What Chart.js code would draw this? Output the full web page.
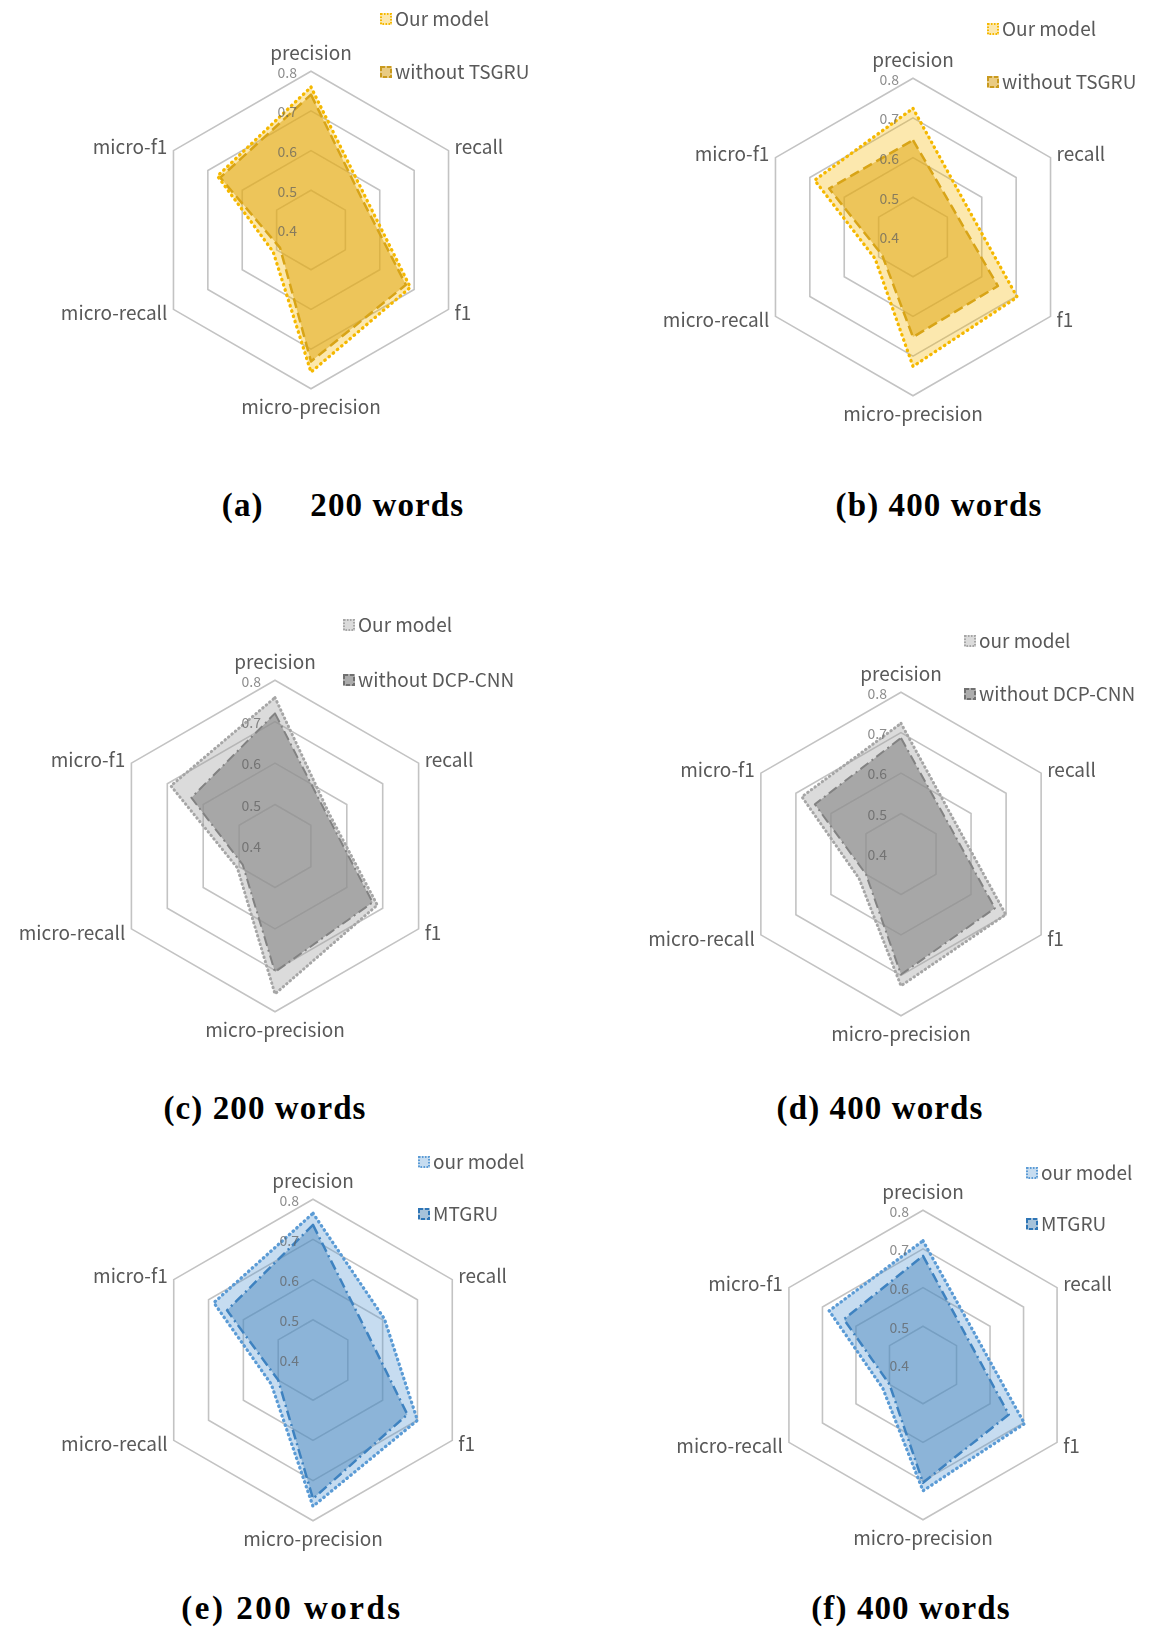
<!DOCTYPE html>
<html>
<head>
<meta charset="utf-8">
<script src="https://cdn.jsdelivr.net/npm/chart.js@4.4.1/dist/chart.umd.min.js"></script>
<style>
  html, body { margin: 0; padding: 0; background: #fff; }
  #page { position: relative; width: 1159px; height: 1628px; overflow: hidden; background: #fff; }
  .panel { position: absolute; }
  .caption {
    position: absolute;
    font-family: "Liberation Serif", "Times New Roman", serif;
    font-weight: bold;
    font-size: 33px;
    letter-spacing: 1.1px;
    color: #000;
    white-space: pre;
    transform: translate(-50%, -50%);
  }
</style>
</head>
<body>
<div id="page"></div>
<script>
// Radar axes, clockwise from the top
const categories = ['precision', 'recall', 'f1', 'micro-precision', 'micro-recall', 'micro-f1'];
const tickValues = [0.4, 0.5, 0.6, 0.7, 0.8];
const tickLabels = ['0.4', '0.5', '0.6', '0.7', '0.8'];

// (a) TSGRU ablation, 200 words
const tsgru200Ours    = [0.760, 0.560, 0.689, 0.758, 0.510, 0.672];
const tsgru200Without = [0.741, 0.550, 0.676, 0.731, 0.490, 0.664];
// (b) TSGRU ablation, 400 words
const tsgru400Ours    = [0.724, 0.556, 0.703, 0.726, 0.510, 0.686];
const tsgru400Without = [0.644, 0.523, 0.647, 0.652, 0.490, 0.644];
// (c) DCP-CNN ablation, 200 words
const dcp200Ours      = [0.758, 0.552, 0.685, 0.757, 0.505, 0.690];
const dcp200Without   = [0.720, 0.546, 0.672, 0.704, 0.490, 0.633];
// (d) DCP-CNN ablation, 400 words
const dcp400Ours      = [0.723, 0.555, 0.699, 0.726, 0.520, 0.683];
const dcp400Without   = [0.687, 0.539, 0.668, 0.698, 0.500, 0.646];
// (e) against MTGRU, 200 words
const mtgru200Ours    = [0.765, 0.605, 0.700, 0.764, 0.520, 0.685];
const mtgru200Base    = [0.736, 0.551, 0.671, 0.745, 0.500, 0.647];
// (f) against MTGRU, 400 words
const mtgru400Ours    = [0.721, 0.556, 0.703, 0.725, 0.520, 0.680];
const mtgru400Base    = [0.682, 0.534, 0.656, 0.704, 0.500, 0.636];

const seriesNames = {
  a: ['Our model', 'without TSGRU'],
  b: ['Our model', 'without TSGRU'],
  c: ['Our model', 'without DCP-CNN'],
  d: ['our model', 'without DCP-CNN'],
  e: ['our model', 'MTGRU'],
  f: ['our model', 'MTGRU']
};
const captions = {
  a: '(a)     200 words',
  b: '(b) 400 words',
  c: '(c) 200 words',
  d: '(d) 400 words',
  e: '(e) 200 words',
  f: '(f) 400 words'
};

// Line / fill styles per colour family
const palettes = {
  gold: [
    { border: '#F5B800', fill: 'rgba(245,185,10,0.33)', dash: [0.5, 5], width: 3.3, cap: 'round' },
    { border: '#C99A1E', fill: 'rgba(215,160,30,0.55)', dash: [10, 5], width: 2.5, cap: 'butt' }
  ],
  gray: [
    { border: '#A6A6A6', fill: 'rgba(160,160,160,0.38)', dash: [0.5, 4], width: 3, cap: 'round' },
    { border: '#707070', fill: 'rgba(128,128,128,0.65)', dash: [10, 4, 2, 4], width: 2, cap: 'butt' }
  ],
  blue: [
    { border: '#5B9BD5', fill: 'rgba(91,155,213,0.35)', dash: [0.5, 4.5], width: 3.3, cap: 'round' },
    { border: '#2E75B6', fill: 'rgba(62,122,175,0.46)', dash: [10, 4, 2, 4], width: 2.5, cap: 'butt' }
  ]
};

// Placement of each radar on the page
const panels = [
  { key: 'a', data: [tsgru200Ours, tsgru200Without], palette: 'gold', cx: 311, cy: 231, r: 159, legend: [84, -211, -158], cap: [343, 505], capSpacing: 1.1 },
  { key: 'b', data: [tsgru400Ours, tsgru400Without], palette: 'gold', cx: 913, cy: 238, r: 159, legend: [89, -208, -155], cap: [939, 505], capSpacing: 1.1 },
  { key: 'c', data: [dcp200Ours, dcp200Without], palette: 'gray', cx: 275, cy: 847, r: 166, legend: [83, -221, -166], cap: [265, 1108], capSpacing: 1.1 },
  { key: 'd', data: [dcp400Ours, dcp400Without], palette: 'gray', cx: 901, cy: 855, r: 162, legend: [78, -213, -160], cap: [880, 1108], capSpacing: 1.1 },
  { key: 'e', data: [mtgru200Ours, mtgru200Base], palette: 'blue', cx: 313, cy: 1361, r: 161, legend: [120, -198, -146], cap: [292, 1608], capSpacing: 2.5 },
  { key: 'f', data: [mtgru400Ours, mtgru400Base], palette: 'blue', cx: 923, cy: 1366, r: 155, legend: [118, -192, -141], cap: [911, 1608], capSpacing: 1.1 }
];

const TEXT_FONT = '"Noto Sans CJK SC", "Noto Sans", sans-serif';
const LABEL_SIZE = 19;

// Scale tick labels drawn just left of the vertical axis
const tickLabelPlugin = {
  id: 'tickLabelsLeft',
  afterDatasetsDraw(chart) {
    const s = chart.scales.r;
    const ctx = chart.ctx;
    ctx.save();
    ctx.font = '14px ' + TEXT_FONT;
    ctx.fillStyle = 'rgba(95,95,95,0.72)';
    ctx.textAlign = 'right';
    ctx.textBaseline = 'middle';
    tickValues.forEach((v, i) => {
      const d = s.getDistanceFromCenterForValue(v);
      ctx.fillText(tickLabels[i], s.xCenter - 14, s.yCenter - d + 1);
    });
    ctx.restore();
  }
};

// Two-row legend placed to the upper right of the radar
const sideLegendPlugin = {
  id: 'sideLegend',
  afterDraw(chart, args, opts) {
    const s = chart.scales.r;
    const ctx = chart.ctx;
    const [dx, dy1, dy2] = opts.offset;
    const rows = [dy1, dy2];
    ctx.save();
    chart.data.datasets.forEach((ds, i) => {
      const x = s.xCenter + dx;
      const y = s.yCenter + rows[i];
      // swatch
      ctx.fillStyle = '#fff';
      ctx.fillRect(x - 15, y - 6, 12, 12);
      ctx.fillStyle = ds.backgroundColor;
      ctx.fillRect(x - 15, y - 6, 12, 12);
      ctx.strokeStyle = ds.borderColor;
      ctx.lineWidth = 2;
      ctx.setLineDash(i === 0 ? [1.5, 1.5] : [4, 2]);
      ctx.strokeRect(x - 14, y - 5, 10, 10);
      ctx.setLineDash([]);
      // text
      ctx.font = LABEL_SIZE + 'px ' + TEXT_FONT;
      ctx.fillStyle = '#595959';
      ctx.textAlign = 'left';
      ctx.textBaseline = 'middle';
      ctx.fillText(ds.label, x, y);
    });
    ctx.restore();
  }
};

const page = document.getElementById('page');
const W = 560;
const PAD_TOP = 250;
const PAD_BOTTOM = 12;
const LABEL_PAD = [18, 7, 7, 18, 7, 7];

panels.forEach(p => {
  const lineH = 0.01;
  const hs = 2 * Math.round(p.r + 18 + LABEL_SIZE * lineH);
  const H = PAD_TOP + hs + PAD_BOTTOM;
  const canvas = document.createElement('canvas');
  canvas.className = 'panel';
  canvas.width = W;
  canvas.height = H;
  canvas.style.width = W + 'px';
  canvas.style.height = H + 'px';
  canvas.style.left = (p.cx - W / 2) + 'px';
  canvas.style.top = (p.cy - PAD_TOP - hs / 2) + 'px';
  page.appendChild(canvas);

  const styles = palettes[p.palette];
  const datasets = p.data.map((values, i) => ({
    label: seriesNames[p.key][i],
    data: values,
    borderColor: styles[i].border,
    backgroundColor: styles[i].fill,
    borderDash: styles[i].dash,
    borderWidth: styles[i].width,
    borderCapStyle: styles[i].cap,
    borderJoinStyle: 'round',
    fill: true,
    pointRadius: 0,
    pointHoverRadius: 0,
    tension: 0
  }));

  new Chart(canvas, {
    type: 'radar',
    data: { labels: categories, datasets },
    options: {
      responsive: false,
      animation: false,
      events: [],
      layout: { padding: { top: PAD_TOP, bottom: PAD_BOTTOM, left: 0, right: 0 } },
      plugins: {
        legend: { display: false },
        tooltip: { enabled: false },
        sideLegend: { offset: p.legend }
      },
      scales: {
        r: {
          min: 0.4,
          max: 0.8,
          beginAtZero: false,
          ticks: { display: false, stepSize: 0.1 },
          grid: { color: '#c3c3c3', lineWidth: 1.6 },
          angleLines: { display: false },
          pointLabels: {
            color: '#595959',
            padding: (ctx) => LABEL_PAD[ctx.index],
            font: { family: TEXT_FONT, size: LABEL_SIZE, lineHeight: lineH }
          }
        }
      }
    },
    plugins: [tickLabelPlugin, sideLegendPlugin]
  });

  const cap = document.createElement('div');
  cap.className = 'caption';
  cap.textContent = captions[p.key];
  cap.style.left = p.cap[0] + 'px';
  cap.style.top = p.cap[1] + 'px';
  cap.style.letterSpacing = p.capSpacing + 'px';
  page.appendChild(cap);
});
</script>
</body>
</html>
